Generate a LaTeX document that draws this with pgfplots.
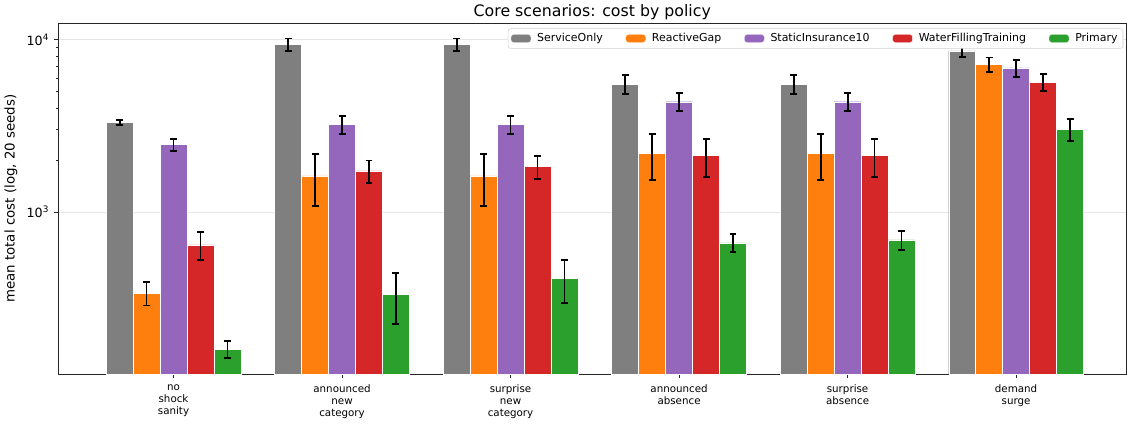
\documentclass[border=0pt]{standalone}
\usepackage{fontspec}
\setmainfont{DejaVu Sans}
\usepackage{pgfplots}
\pgfplotsset{compat=1.18}
\usepackage{pgfplotstable}

\definecolor{cGray}{HTML}{7F7F7F}
\definecolor{cOrange}{HTML}{FF7F0E}
\definecolor{cPurple}{HTML}{9467BD}
\definecolor{cRed}{HTML}{D62728}
\definecolor{cGreen}{HTML}{2CA02C}

% x = scenario index, y = mean cost, e = error
\pgfplotstableread{
x y e
0 3313 110
1 9380 775
2 9380 775
3 5534 695
4 5534 695
5 8610 675
}\serviceonly
\pgfplotstableread{
x y e
0 340 52
1 1623 540
2 1623 540
3 2197 654
4 2197 654
5 7205 678
}\reactivegap
\pgfplotstableread{
x y e
0 2467 198
1 3230 400
2 3230 400
3 4371 515
4 4371 515
5 6855 795
}\staticins
\pgfplotstableread{
x y e
0 647 120
1 1736 258
2 1839 275
3 2138 532
4 2138 532
5 5684 663
}\waterfill
\pgfplotstableread{
x y e
0 161 19
1 334 108
2 414 117
3 665 80
4 692 88
5 3018 445
}\primary

\pgfplotsset{
  costbar/.style={draw=white, line width=0.25pt,
    /pgfplots/error bars/y dir=both,
    /pgfplots/error bars/y explicit,
    /pgfplots/error bars/error bar style={black, solid, line width=1.4pt},
    /pgfplots/error bars/error mark options={rotate=90, black, solid, line width=1.4pt, mark size=2.6pt}},
}

\begin{document}
\begin{tikzpicture}
\begin{axis}[
  scale only axis,
  width=798.75pt, height=262.5pt,
  ymode=log, log origin y=infty,
  ymin=115, ymax=12480,
  xmin=-0.685, xmax=5.655,
  xtick={0,1,2,3,4,5},
  xticklabels={{no\\shock\\sanity},{announced\\new\\category},{surprise\\new\\category},{announced\\absence},{surprise\\absence},{demand\\surge}},
  xticklabel style={align=center, font=\fontsize{7.7}{9}\selectfont, yshift=-1pt},
  ytick={1000,10000},
  yticklabels={10\textsuperscript{3},10\textsuperscript{4}},
  yticklabel style={font=\fontsize{9.5}{11}\selectfont},
  tick pos=left,
  tick align=outside,
  major tick length=3.2pt,
  minor tick length=1.8pt,
  tick style={black!85, line width=0.6pt},
  axis line style={black!85, line width=0.8pt},
  ymajorgrids,
  major grid style={black!10, line width=0.8pt},
  ylabel={mean total cost (log, 20 seeds)},
  ylabel style={font=\fontsize{10}{12}\selectfont},
  title={Core scenarios: cost by policy},
  title style={font=\fontsize{11.8}{14}\selectfont, yshift=-7pt},
  ybar, bar width=0.16,
  legend columns=5,
  legend style={at={(0.997,0.985)}, anchor=north east, draw=black!18, rounded corners=2pt,
    font=\fontsize{8.2}{9.5}\selectfont, inner ysep=1.5pt, inner xsep=2pt,
    /tikz/every odd column/.append style={column sep=2.5pt},
    /tikz/every even column/.append style={column sep=15pt}},
  legend image code/.code={\fill[#1] (0pt,-3pt) rectangle (15pt,3pt);},
]
\addplot[fill=cGray, costbar, bar shift=-0.32] table[x=x, y=y, y error=e] {\serviceonly};
\addlegendentry{ServiceOnly}
\addplot[fill=cOrange, costbar, bar shift=-0.16] table[x=x, y=y, y error=e] {\reactivegap};
\addlegendentry{ReactiveGap}
\addplot[fill=cPurple, costbar, bar shift=0] table[x=x, y=y, y error=e] {\staticins};
\addlegendentry{StaticInsurance10}
\addplot[fill=cRed, costbar, bar shift=0.16] table[x=x, y=y, y error=e] {\waterfill};
\addlegendentry{WaterFillingTraining}
\addplot[fill=cGreen, costbar, bar shift=0.32] table[x=x, y=y, y error=e] {\primary};
\addlegendentry{Primary}
\end{axis}
\end{tikzpicture}
\end{document}
